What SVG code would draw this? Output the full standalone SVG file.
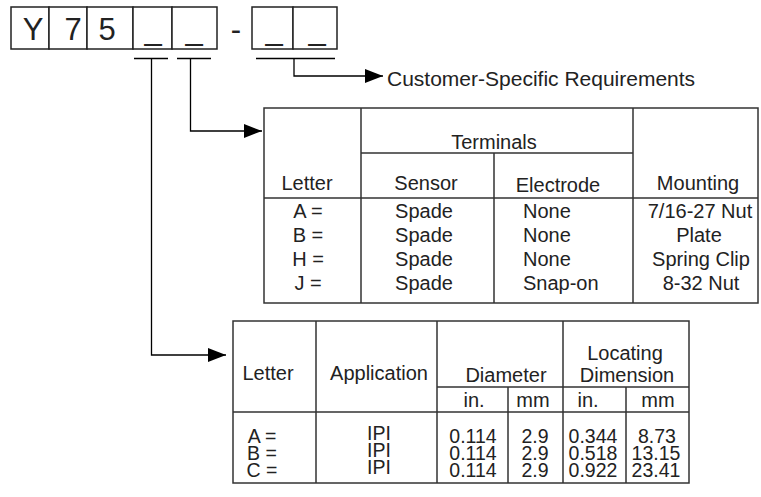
<svg xmlns="http://www.w3.org/2000/svg" width="761" height="497" viewBox="0 0 761 497">
<style>
.bx{fill:#fff;stroke:#222;stroke-width:1.5}
.ln{fill:none;stroke:#333;stroke-width:1.5}
.cn{fill:none;stroke:#000;stroke-width:1.3}
.big{font-family:"Liberation Sans",Arial,sans-serif;font-size:31px;fill:#222;text-anchor:middle}
.t{font-family:"Liberation Sans",Arial,sans-serif;font-size:20px;fill:#222;text-anchor:middle}
.tl{font-family:"Liberation Sans",Arial,sans-serif;font-size:20px;fill:#222}
.d{font-family:"Liberation Sans",Arial,sans-serif;font-size:19.5px;fill:#222;text-anchor:middle}
.lbl{font-family:"Liberation Sans",Arial,sans-serif;font-size:21px;fill:#222}
</style>
<defs>
<marker id="ah" viewBox="0 0 18 14" refX="18" refY="7" markerWidth="18" markerHeight="14" markerUnits="userSpaceOnUse" orient="auto">
<path d="M0,0 L18,7 L0,14 Z" fill="#000"/>
</marker>
</defs>
<rect width="761" height="497" fill="#fff"/>
<g id="code">
<rect class="bx" x="11" y="7" width="38" height="42"/>
<rect class="bx" x="49" y="7" width="38" height="42"/>
<rect class="bx" x="87" y="7" width="46" height="42"/>
<rect class="bx" x="133" y="7" width="39" height="42"/>
<rect class="bx" x="172" y="7" width="45" height="42"/>
<rect class="bx" x="252" y="7" width="41" height="42"/>
<rect class="bx" x="293" y="7" width="44" height="42"/>
<text class="big" x="33" y="39.5">Y</text>
<text class="big" x="73" y="39.5">7</text>
<text class="big" x="107" y="39.5">5</text>
<text class="big" x="153" y="39.5">_</text>
<text class="big" x="194" y="39.5">_</text>
<text class="big" x="236" y="39.5">-</text>
<text class="big" x="274" y="39.5">_</text>
<text class="big" x="317" y="39.5">_</text>
</g>
<g id="connectors">
<path class="cn" d="M134,58.5 H168 M177,58.5 H211 M256,58.5 H335"/>
<path class="cn" d="M294,58.5 V76 H383" marker-end="url(#ah)"/>
<path class="cn" d="M190.5,58.5 V131 H262" marker-end="url(#ah)"/>
<path class="cn" d="M151.5,58.5 V355 H226" marker-end="url(#ah)"/>
</g>
<g id="label-customer">
<text class="lbl" x="387" y="86">Customer-Specific Requirements</text>
</g>
<g id="table-terminals">
<rect class="ln" x="264" y="108" width="494" height="195"/>
<path class="ln" d="M361,108 V303 M633,108 V303 M494,153 V303 M361,153 H633 M264,198 H758"/>
<text class="t" x="307" y="190">Letter</text>
<text class="t" x="494" y="149">Terminals</text>
<text class="t" x="426" y="190">Sensor</text>
<text class="t" x="558" y="192">Electrode</text>
<text class="t" x="698" y="190">Mounting</text>
<text class="t" x="308" y="218">A =</text>
<text class="t" x="308" y="242">B =</text>
<text class="t" x="308" y="266">H =</text>
<text class="t" x="308" y="290">J =</text>
<text class="t" x="424" y="218">Spade</text>
<text class="t" x="424" y="242">Spade</text>
<text class="t" x="424" y="266">Spade</text>
<text class="t" x="424" y="290">Spade</text>
<text class="tl" x="523" y="218">None</text>
<text class="tl" x="523" y="242">None</text>
<text class="tl" x="523" y="266">None</text>
<text class="tl" x="523" y="290">Snap-on</text>
<text class="t" x="700" y="218">7/16-27 Nut</text>
<text class="t" x="699" y="242">Plate</text>
<text class="t" x="701" y="266">Spring Clip</text>
<text class="t" x="701" y="290">8-32 Nut</text>
</g>
<g id="table-dimensions">
<rect class="ln" x="233" y="321" width="456" height="162"/>
<path class="ln" d="M316,321 V483 M437,321 V483 M563,321 V483 M508,387 V483 M626,387 V483 M437,387 H689 M233,412 H689"/>
<text class="t" x="268" y="380">Letter</text>
<text class="t" x="379" y="380">Application</text>
<text class="t" x="506" y="382">Diameter</text>
<text class="t" x="625" y="360">Locating</text>
<text class="t" x="627" y="382">Dimension</text>
<text class="t" x="474" y="407">in.</text>
<text class="t" x="533" y="407">mm</text>
<text class="t" x="588" y="407">in.</text>
<text class="t" x="658" y="407">mm</text>
<text class="d" x="262" y="443">A =</text>
<text class="d" x="262" y="460">B =</text>
<text class="d" x="262" y="477">C =</text>
<text class="d" x="379" y="440">IPI</text>
<text class="d" x="379" y="457">IPI</text>
<text class="d" x="379" y="474">IPI</text>
<text class="d" x="473" y="443">0.114</text>
<text class="d" x="473" y="460">0.114</text>
<text class="d" x="473" y="477">0.114</text>
<text class="d" x="535" y="443">2.9</text>
<text class="d" x="535" y="460">2.9</text>
<text class="d" x="535" y="477">2.9</text>
<text class="d" x="593" y="443">0.344</text>
<text class="d" x="593" y="460">0.518</text>
<text class="d" x="593" y="477">0.922</text>
<text class="d" x="657" y="443">8.73</text>
<text class="d" x="656" y="460">13.15</text>
<text class="d" x="656" y="477">23.41</text>
</g>
</svg>
